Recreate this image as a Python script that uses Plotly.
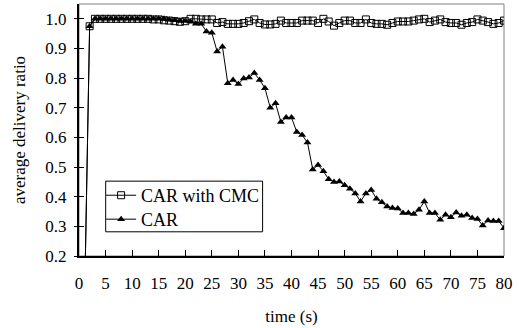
import plotly.graph_objects as go

time_s = list(range(1, 81))

car_cmc = [0.0, 0.975, 1.0, 1.0, 1.0, 1.0, 1.0, 1.0, 1.0, 1.0,
           1.0, 1.0, 1.0, 0.998, 0.998, 0.995, 0.994, 0.992, 0.99, 0.992,
           1.0, 1.0, 0.998, 0.998, 0.998, 0.986, 0.989, 0.983, 0.983, 0.983,
           0.986, 0.992, 0.998, 0.986, 0.981, 0.981, 0.983, 0.994, 0.986, 0.986,
           0.986, 0.994, 0.994, 0.994, 0.986, 1.0, 0.991, 0.977, 0.986, 0.994,
           0.994, 0.986, 0.986, 0.998, 0.986, 0.983, 0.983, 0.980, 0.986, 0.991,
           0.991, 0.991, 0.994, 0.998, 1.0, 0.989, 0.994, 0.998, 0.989, 0.986,
           0.986, 0.980, 0.986, 0.989, 0.998, 0.994, 0.989, 0.983, 0.986, 0.994]

car = [0.0, 0.975, 1.0, 1.0, 1.0, 1.0, 1.0, 1.0, 1.0, 1.0,
       1.0, 1.0, 1.0, 1.0, 1.0, 1.0, 0.997, 0.995, 0.993, 0.993,
       0.99, 0.983, 0.983, 0.957, 0.953, 0.89, 0.906, 0.783, 0.794, 0.78,
       0.799, 0.802, 0.817, 0.794, 0.766, 0.70, 0.715, 0.652, 0.667, 0.667,
       0.618, 0.608, 0.583, 0.492, 0.507, 0.486, 0.459, 0.45, 0.451, 0.439,
       0.427, 0.411, 0.384, 0.411, 0.423, 0.393, 0.381, 0.367, 0.362, 0.36,
       0.345, 0.345, 0.342, 0.356, 0.384, 0.345, 0.345, 0.322, 0.339, 0.331,
       0.347, 0.336, 0.339, 0.328, 0.325, 0.303, 0.32, 0.318, 0.318, 0.294]

x_ticks = list(range(0, 85, 5))
y_ticks = [0.2, 0.3, 0.4, 0.5, 0.6, 0.7, 0.8, 0.9, 1.0]

FONT = "Liberation Serif"

fig = go.Figure()
fig.add_trace(go.Scatter(
    x=time_s, y=car_cmc, name="CAR with CMC", mode="lines+markers",
    line=dict(color="black", width=1), legend="legend",
    marker=dict(symbol="square-open", size=7, color="black", line=dict(width=1, color="black")),
))
fig.add_trace(go.Scatter(
    x=time_s, y=car, name="CAR", mode="lines+markers",
    line=dict(color="black", width=1), legend="legend2",
    marker=dict(symbol="triangle-up", size=7, color="black"),
))
# overlay axis only for the outer half of the crossing y ticks
fig.add_trace(go.Scatter(x=[None], y=[None], yaxis="y2", showlegend=False, hoverinfo="skip"))

leg_common = dict(xanchor="left", yanchor="middle", bgcolor="rgba(0,0,0,0)",
                  borderwidth=0, font=dict(family=FONT, size=18, color="black"),
                  itemwidth=30)

fig.update_layout(
    width=519, height=328,
    margin=dict(l=79, r=15, t=4, b=72),
    paper_bgcolor="white", plot_bgcolor="white",
    font=dict(family=FONT, size=17, color="black"),
    showlegend=True,
    legend=dict(x=0.052, y=0.240, **leg_common),
    legend2=dict(x=0.052, y=0.145, **leg_common),
    xaxis=dict(
        range=[0, 80], tickvals=x_ticks, ticks="inside", ticklen=6, tickwidth=1,
        tickcolor="black", showline=True, linecolor="black", linewidth=2,
        showgrid=False, zeroline=False, ticklabelstandoff=11,
        tickfont=dict(family=FONT, size=17),
        title=dict(text="time (s)", font=dict(family=FONT, size=17), standoff=18),
        automargin=False,
    ),
    yaxis=dict(
        range=[0.2, 1.05], tickvals=y_ticks, tickformat=".1f", ticks="inside",
        ticklen=5, tickwidth=1, tickcolor="black", showline=True, linecolor="black",
        linewidth=2, showgrid=False, zeroline=False, ticklabelstandoff=7,
        tickfont=dict(family=FONT, size=17),
        title=dict(text="average delivery ratio", font=dict(family=FONT, size=17), standoff=15),
        automargin=False,
    ),
    yaxis2=dict(
        range=[0.2, 1.05], tickvals=y_ticks, overlaying="y", side="left",
        ticks="outside", ticklen=4, tickwidth=1, tickcolor="black",
        showticklabels=False, showline=False, showgrid=False, zeroline=False,
    ),
    shapes=[
        dict(type="rect", xref="paper", yref="paper", x0=0, x1=1, y0=0, y1=1,
             line=dict(color="#808080", width=1), layer="below"),
        # legend frame
        dict(type="rect", xref="paper", yref="paper", x0=0.0628, x1=0.432, y0=0.096, y1=0.297,
             line=dict(color="black", width=1), fillcolor="white", layer="above"),
    ],
)

fig.write_html("out.html", config={"displayModeBar": False},
               post_script="document.body.style.margin='0';")
